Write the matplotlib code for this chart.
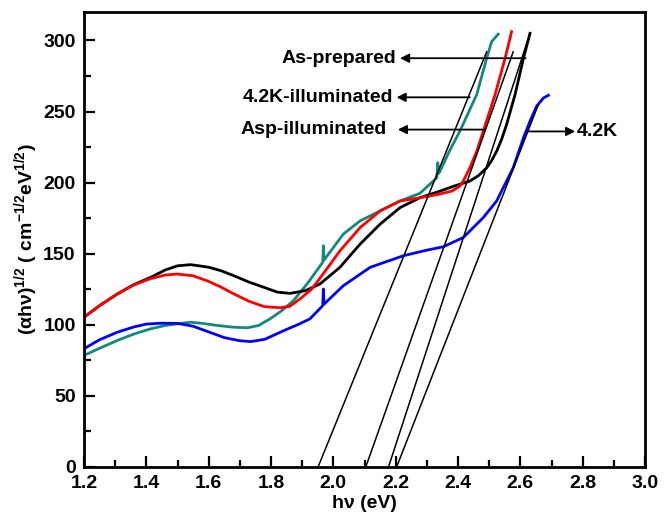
import numpy as np
import matplotlib
matplotlib.use('Agg')
import matplotlib.pyplot as plt
from matplotlib.ticker import MultipleLocator

plt.rcParams['font.family'] = ['Liberation Sans', 'DejaVu Sans']
plt.rcParams['font.weight'] = 'bold'
plt.rcParams['mathtext.fontset'] = 'custom'
plt.rcParams['mathtext.rm'] = 'Liberation Sans:bold'
plt.rcParams['mathtext.it'] = 'Liberation Sans:bold'
plt.rcParams['mathtext.bf'] = 'Liberation Sans:bold'

# as-prepared (black)
asp_x = [1.20, 1.25, 1.307, 1.36, 1.414, 1.46, 1.50, 1.542, 1.60, 1.64, 1.681, 1.73, 1.778,
         1.82, 1.861, 1.91, 1.957, 2.021, 2.086, 2.150, 2.214, 2.278, 2.30, 2.342, 2.385,
         2.438, 2.465, 2.492, 2.508, 2.524, 2.54, 2.556, 2.583, 2.610, 2.631]
asp_y = [105.3, 113.5, 121.7, 128.3, 133.4, 138.5, 141.5, 142.3, 140.5, 138.0, 134.5, 130.0, 126.3,
         123.0, 122.1, 124.0, 128.7, 140.4, 156.8, 170.8, 182.4, 189.4, 191.0, 194.0, 197.4,
         201.1, 204.8, 210.4, 215.5, 222.1, 230.5, 240.9, 261.9, 287.5, 305.0]

# asp-illuminated (red)
aspi_x = [1.20, 1.25, 1.307, 1.36, 1.414, 1.46, 1.499, 1.55, 1.60, 1.64, 1.681, 1.73, 1.778,
          1.829, 1.86, 1.893, 1.93, 1.963, 2.021, 2.086, 2.150, 2.214, 2.278, 2.332, 2.38,
          2.406, 2.417, 2.438, 2.46, 2.481, 2.519, 2.551, 2.572]
aspi_y = [105.3, 113.5, 121.7, 128.0, 132.5, 135.0, 135.7, 134.5, 130.5, 126.5, 121.7, 116.5, 112.8,
          112.0, 113.0, 118.2, 125.0, 134.5, 152.0, 168.4, 180.1, 187.1, 189.4, 191.5, 194.0,
          197.5, 201.1, 210.4, 222.0, 236.2, 261.9, 287.5, 306.2]

# 4.2K-illuminated (teal)
k42i_x = [1.20, 1.25, 1.307, 1.36, 1.414, 1.46, 1.499, 1.542, 1.58, 1.628, 1.68, 1.724, 1.76,
          1.797, 1.835, 1.872, 1.92, 1.966, 1.968, 1.970, 2.032, 2.086, 2.150, 2.214, 2.278,
          2.332, 2.335, 2.338, 2.341, 2.372, 2.406, 2.46, 2.492, 2.508, 2.529]
k42i_y = [78.5, 83.5, 89.0, 93.5, 97.2, 99.5, 100.7, 101.8, 101.0, 99.5, 98.3, 97.9, 99.5,
          104.2, 110.0, 117.0, 130.0, 144.0, 155.6, 145.5, 163.8, 173.1, 180.1, 187.1, 192.5,
          203.4, 214.0, 206.5, 207.5, 222.0, 236.2, 261.9, 287.5, 299.2, 304.4]

# 4.2K (blue)
k42_x = [1.20, 1.25, 1.307, 1.36, 1.40, 1.446, 1.50, 1.55, 1.60, 1.65, 1.70, 1.735, 1.78,
         1.842, 1.89, 1.925, 1.966, 1.968, 1.970, 2.032, 2.118, 2.225, 2.30, 2.353, 2.417,
         2.481, 2.524, 2.577, 2.610, 2.631, 2.652, 2.674, 2.690]
k42_y = [83.2, 89.5, 94.8, 98.5, 100.5, 101.1, 101.0, 99.0, 95.0, 91.0, 88.8, 88.2, 89.8,
         96.0, 100.5, 104.2, 113.5, 125.2, 114.5, 127.5, 140.4, 148.6, 152.5, 154.9, 161.4,
         175.4, 187.1, 210.4, 231.5, 243.2, 253.7, 259.5, 261.4]

# linear fits: x-intercept and upper end
fit_x0 = [1.951, 2.104, 2.177, 2.203]
fit_x1 = [2.492, 2.577, 2.631, 2.658]
fit_y1 = [292.0, 292.0, 305.0, 255.0]

labels = ['As-prepared', '4.2K-illuminated', 'Asp-illuminated', '4.2K']
arrow_from_x = [2.617, 2.438, 2.487, 2.626]
arrow_to_x = [2.214, 2.203, 2.207, 2.776]
arrow_y = [287.5, 260.0, 237.3, 236.0]
text_x = [2.203, 2.191, 2.172, 2.782]

fig = plt.figure(figsize=(6.7, 5.24), dpi=100)
ax = fig.add_axes([0.1254, 0.1088, 0.8373, 0.8683])

ax.plot(k42i_x, k42i_y, color='#11897d', lw=2)
ax.plot(asp_x, asp_y, color='black', lw=2)
ax.plot(aspi_x, aspi_y, color='#ff0000', lw=2)
ax.plot(k42_x, k42_y, color='#0000ff', lw=2)

for i in range(len(fit_x0)):
    ax.plot([fit_x0[i], fit_x1[i]], [0, fit_y1[i]], color='black', lw=1.1)

for i in range(len(labels)):
    ax.annotate('', xy=(arrow_to_x[i], arrow_y[i]), xytext=(arrow_from_x[i], arrow_y[i]),
                arrowprops=dict(arrowstyle='-|>', color='black', lw=1.3,
                                mutation_scale=13, shrinkA=0, shrinkB=0))
    ha = 'left' if i == 3 else 'right'
    ax.text(text_x[i], arrow_y[i], labels[i], ha=ha, va='center',
            fontsize=14, fontweight='bold')

ax.set_xlim(1.2, 3.0)
ax.set_ylim(0, 320)
ax.xaxis.set_major_locator(MultipleLocator(0.2))
ax.xaxis.set_minor_locator(MultipleLocator(0.1))
ax.yaxis.set_major_locator(MultipleLocator(50))
ax.yaxis.set_minor_locator(MultipleLocator(25))
ax.xaxis.set_major_formatter(matplotlib.ticker.FormatStrFormatter('%.1f'))
ax.tick_params(which='both', direction='in', top=False, right=False, width=1.6,
               labelsize=14, pad=6)
ax.tick_params(which='major', length=8)
ax.tick_params(which='minor', length=5)
for lab in ax.get_xticklabels() + ax.get_yticklabels():
    lab.set_fontweight('bold')
for s in ax.spines.values():
    s.set_linewidth(2)

ax.set_xlabel('h\u03bd (eV)', fontsize=14, fontweight='bold', labelpad=2)
ax.set_ylabel('(\u03b1h\u03bd)$^{1/2}$ ( cm$^{-1/2}$eV$^{1/2}$)', fontsize=14,
              fontweight='bold', labelpad=2)

fig.savefig('out.png', dpi=100)
